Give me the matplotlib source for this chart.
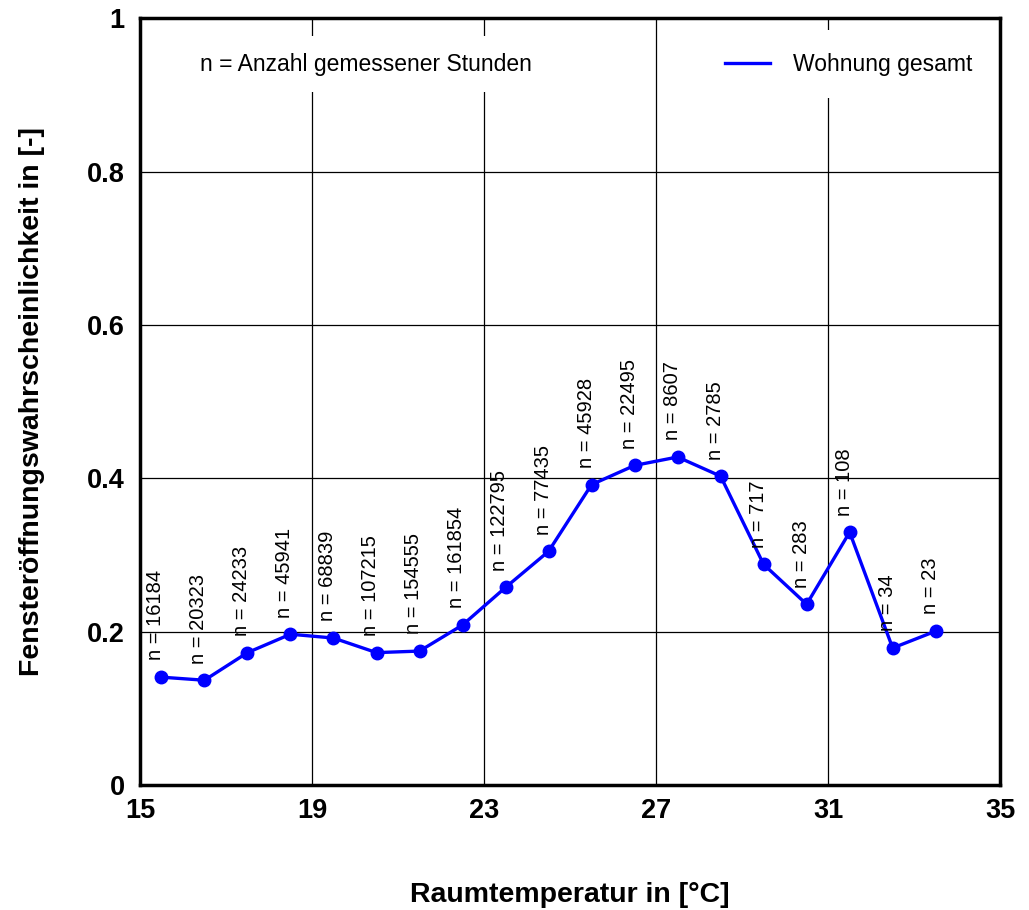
import matplotlib
matplotlib.use("Agg")
import matplotlib.pyplot as plt
from matplotlib import font_manager
from matplotlib.ticker import FuncFormatter

# data
temperature = [15.5, 16.5, 17.5, 18.5, 19.5, 20.5, 21.5, 22.5, 23.5, 24.5,
               25.5, 26.5, 27.5, 28.5, 29.5, 30.5, 31.5, 32.5, 33.5]
probability = [0.141, 0.137, 0.173, 0.197, 0.192, 0.173, 0.175, 0.209, 0.258, 0.305,
               0.392, 0.417, 0.428, 0.403, 0.288, 0.236, 0.330, 0.179, 0.201]
hours = [16184, 20323, 24233, 45941, 68839, 107215, 154555, 161854, 122795, 77435,
         45928, 22495, 8607, 2785, 717, 283, 108, 34, 23]
xticks = [15, 19, 23, 27, 31, 35]
yticks = [0, 0.2, 0.4, 0.6, 0.8, 1.0]

names = {f.name for f in font_manager.fontManager.ttflist}
narrow = "Liberation Sans Narrow" if "Liberation Sans Narrow" in names else "Liberation Sans"
plt.rcParams["font.family"] = ["Liberation Sans", "DejaVu Sans"]

fig = plt.figure(figsize=(10.29, 9.10), dpi=100)
ax = fig.add_axes([0.136, 0.137, 0.836, 0.843])

ax.plot(temperature, probability, color="#0000FF", lw=2.4, marker="o", ms=9,
        label="Wohnung gesamt", zorder=3)

for x, y, n in zip(temperature, probability, hours):
    ax.annotate(f"n = {n}", (x, y), xytext=(-4, 12), textcoords="offset points",
                rotation=90, ha="center", va="bottom", fontsize=14.5, zorder=4)

ax.set_xlim(15, 35)
ax.set_ylim(0, 1)
ax.set_xticks(xticks)
ax.set_yticks(yticks)
ax.yaxis.set_major_formatter(FuncFormatter(lambda v, p: f"{v:g}"))
ax.grid(True, color="black", lw=0.9)
ax.set_axisbelow(True)
ax.tick_params(axis="y", length=0, pad=11)
ax.tick_params(axis="x", length=0, pad=9)
for lab in ax.get_xticklabels() + ax.get_yticklabels():
    lab.set_fontfamily(narrow)
    lab.set_fontweight("bold")
    lab.set_fontsize(19.5)
for s in ax.spines.values():
    s.set_linewidth(2.5)

ax.set_xlabel("Raumtemperatur in [°C]", fontfamily=narrow, fontweight="bold",
              fontsize=20.5, labelpad=42)
ax.set_ylabel("Fensteröffnungswahrscheinlichkeit in [-]", fontfamily=narrow,
              fontweight="bold", fontsize=20.5, labelpad=30)

ax.text(0.07, 0.94, "n = Anzahl gemessener Stunden", transform=ax.transAxes,
        fontsize=16.5, va="center", ha="left",
        bbox=dict(facecolor="white", edgecolor="none", pad=12), zorder=2)

leg = ax.legend(loc="upper right", bbox_to_anchor=(1.008, 1.0), frameon=True,
                fontsize=16.5, handlelength=2.0, borderpad=1.0, handletextpad=1.0)
leg.get_frame().set_edgecolor("none")
leg.get_frame().set_alpha(1)
for h in leg.get_lines():
    h.set_marker("")

fig.savefig("out.png", dpi=100)
